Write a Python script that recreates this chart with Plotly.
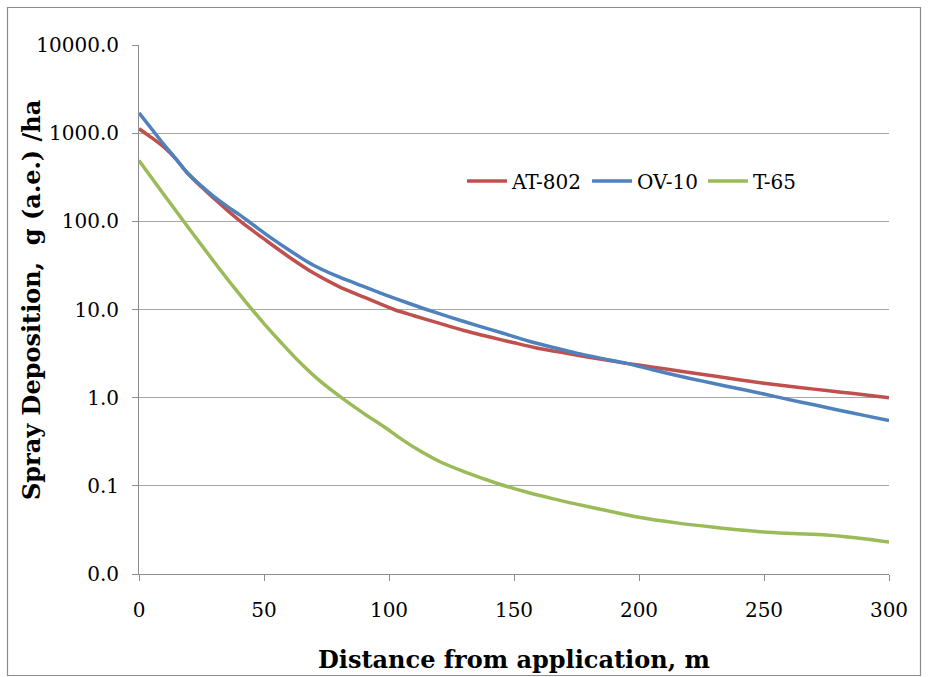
import plotly.graph_objects as go

# Distance from application (m) and spray deposition g (a.e.)/ha
x_at = [0, 5, 10, 15, 19, 25, 30, 35, 40, 45, 50, 60, 70, 80, 90, 102, 110, 120, 130, 140, 150,
        160, 170, 180, 195, 205, 216, 230, 240, 250, 260, 270, 280, 290, 300]
y_at = [1122, 891, 692, 501, 363, 245, 182, 136, 103.5, 80.4, 63.1, 39.4, 25.7, 18.2, 13.8, 10.0,
        8.5, 7.0, 5.78, 4.9, 4.19, 3.61, 3.22, 2.88, 2.45, 2.23, 2.01, 1.76, 1.6, 1.46, 1.35, 1.25,
        1.16, 1.08, 1.0]

x_ov = [0, 5, 10, 15, 19, 25, 30, 35, 40, 45, 50, 55, 60, 66, 70, 80, 90, 99, 107, 115, 125, 135,
        145, 156, 165, 175, 185, 195, 205, 216, 225, 235, 250, 260, 270, 280, 290, 300]
y_ov = [1698, 1122, 741, 501, 363, 251, 191, 150, 120, 94.4, 74.1, 58.9, 47.3, 36.7, 31.6, 23.4,
        18.2, 14.5, 12.0, 10.0, 8.1, 6.6, 5.45, 4.37, 3.76, 3.2, 2.79, 2.45, 2.09, 1.76, 1.55, 1.35,
        1.1, 0.95, 0.83, 0.72, 0.63, 0.55]

x_t = [0, 10, 18, 25, 31, 38, 44, 50, 57, 64, 72, 81, 90, 98, 105, 111, 120, 130, 144, 155, 165,
       175, 185, 200, 215, 230, 250, 262, 275, 290, 300]
y_t = [490, 200, 98.9, 53.7, 32.0, 17.8, 11.0, 6.92, 4.17, 2.57, 1.58, 1.0, 0.66, 0.468, 0.339,
       0.263, 0.19, 0.145, 0.105, 0.085, 0.072, 0.062, 0.054, 0.044, 0.038, 0.034, 0.030, 0.0288,
       0.0277, 0.0251, 0.023]

series = [("AT-802", x_at, y_at, "#C0504D"),
          ("OV-10", x_ov, y_ov, "#4F81BD"),
          ("T-65", x_t, y_t, "#9BBB59")]

y_tickvals = [0.01, 0.1, 1, 10, 100, 1000, 10000]
y_ticktext = ["0.0", "0.1", "1.0", "10.0", "100.0", "1000.0", "10000.0"]
x_tickvals = [0, 50, 100, 150, 200, 250, 300]

W, H = 930, 677
L, R, T, B = 139, 41, 45, 103

fig = go.Figure()
for name, xs, ys, c in series:
    fig.add_trace(go.Scatter(x=xs, y=ys, mode="lines", name=name,
                             line=dict(color=c, width=3.5, shape="spline", smoothing=0.8)))

font = "DejaVu Serif"
pw, ph = W - L - R, H - T - B
def px2x(p):
    return (p - L) / pw
def py2y(p):
    return 1 - (p - T) / ph

fig.update_layout(
    width=W, height=H,
    margin=dict(l=L, r=R, t=T, b=B),
    paper_bgcolor="white", plot_bgcolor="white",
    font=dict(family=font, color="#000000", size=20),
    showlegend=True,
    legend=dict(orientation="h", x=px2x(462), y=py2y(181), xanchor="left", yanchor="middle",
                font=dict(family=font, size=20, color="#000"), bgcolor="rgba(0,0,0,0)",
                itemwidth=40, tracegroupgap=0),
    xaxis=dict(range=[0, 300], tickvals=x_tickvals, ticks="outside", ticklen=6,
               tickcolor="#8C8C8C", showline=True, linecolor="#8C8C8C", linewidth=1,
               showgrid=False, zeroline=False, tickfont=dict(size=20),
               ticklabelstandoff=12),
    yaxis=dict(type="log", range=[-2, 4], tickvals=y_tickvals, ticktext=y_ticktext,
               ticks="outside", ticklen=6, tickcolor="#8C8C8C", showline=True,
               linecolor="#8C8C8C", linewidth=1, showgrid=True, gridcolor="#A6A6A6",
               gridwidth=1, zeroline=False, tickfont=dict(size=20), ticklabelstandoff=9),
)

fig.add_annotation(text="<b>Distance from application, m</b>", xref="paper", yref="paper",
                   x=px2x(514), y=py2y(659), xanchor="center", yanchor="middle",
                   showarrow=False, font=dict(family=font, size=24, color="#000"))
fig.add_annotation(text="<b>Spray Deposition,  g (a.e.) /ha</b>", xref="paper", yref="paper",
                   x=px2x(31), y=py2y(300), xanchor="center", yanchor="middle", textangle=-90,
                   showarrow=False, font=dict(family=font, size=24, color="#000"))

fig.add_shape(type="rect", xref="paper", yref="paper",
              x0=px2x(7.5), x1=px2x(920.5), y0=py2y(675.5), y1=py2y(7.5),
              line=dict(color="#8C8C8C", width=1.2), fillcolor="rgba(0,0,0,0)", layer="below")

fig.write_html("out.html")
